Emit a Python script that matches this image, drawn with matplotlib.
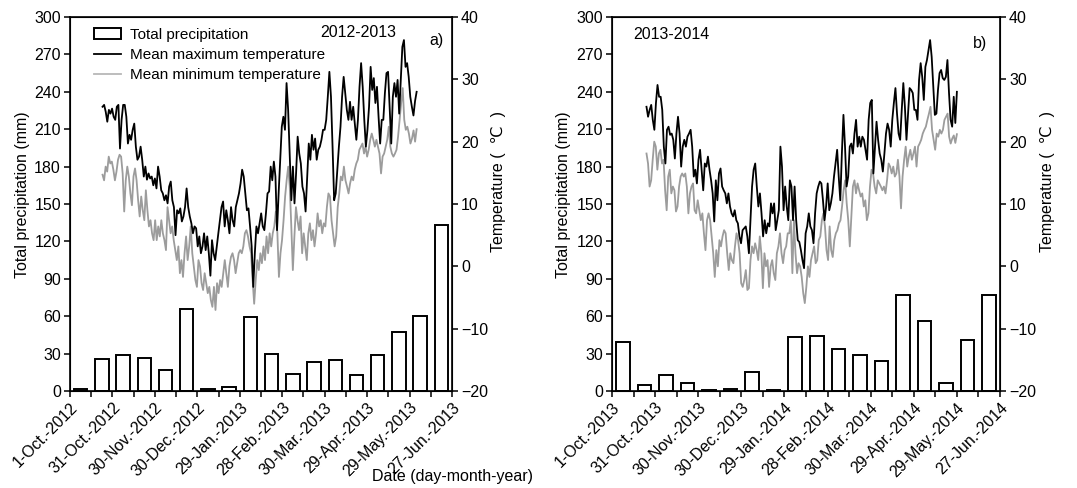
import numpy as np
import matplotlib
matplotlib.use("Agg")
from matplotlib import pyplot as plt
from matplotlib.patches import Patch
from matplotlib.lines import Line2D

plt.rcParams["font.family"] = ["Liberation Sans", "DejaVu Sans"]
plt.rcParams["font.size"] = 11

# ---- data -------------------------------------------------------------
labels_a = ["1-Oct.-2012", "31-Oct.-2012", "30-Nov.-2012", "30-Dec.-2012", "29-Jan.-2013",
            "28-Feb.-2013", "30-Mar.-2013", "29-Apr.-2013", "29-May.-2013", "27-Jun.-2013"]
labels_b = ["1-Oct.-2013", "31-Oct.-2013", "30-Nov.-2013", "30-Dec.-2013", "29-Jan.-2014",
            "28-Feb.-2014", "30-Mar.-2014", "29-Apr.-2014", "29-May.-2014", "27-Jun.-2014"]

# 15-day precipitation totals (mm)
precip_a = [1.5, 25.5, 28.5, 26.5, 16.5, 65.5, 1.3, 3.5, 59.5, 29.5, 13.5, 23.5, 25, 12.5, 29, 47.5, 60, 133]
precip_b = [39.5, 4.5, 12.5, 6.5, 1.2, 1.5, 15.5, 1.2, 43, 44.5, 34, 28.5, 24, 77, 56, 6.5, 41, 77]

# daily mean max / min temperature (degC)
tmax_a = [25.6, 25.9, 24.8, 23.2, 25.1, 24.5, 25.3, 24.0, 23.5, 25.6, 25.9, 18.9, 23.5, 25.9, 25.9, 24.0,
          19.7, 21.1, 20.3, 21.9, 22.9, 19.2, 17.1, 17.6, 19.2, 17.1, 14.4, 16.0, 13.9, 14.9, 14.1, 14.4,
          13.0, 14.1, 12.5, 16.0, 14.4, 12.2, 11.7, 10.6, 11.4, 10.1, 12.8, 13.6, 10.6, 9.5, 5.0, 9.0,
          8.5, 9.3, 7.2, 8.0, 9.5, 12.5, 9.5, 8.0, 6.9, 5.3, 6.4, 6.1, 3.2, 4.8, 2.1, 3.2, 5.3, 2.6,
          4.8, 2.1, -1.5, 4.2, 2.1, 1.0, 3.2, 5.3, 7.4, 9.5, 10.4, 6.4, 9.0, 7.4, 5.3, 9.5, 7.4, 6.4,
          9.5, 10.6, 11.7, 13.3, 15.5, 14.4, 11.7, 9.0, 9.3, 6.4, 3.2, -3.3, 2.1,
          6.4, 5.3, 6.9, 8.5, 6.4, 5.8, 8.5, 11.7, 12.0, 16.0, 13.8, 16.8, 14.4, 5.8, 11.7, 17.1,
          22.4, 24.0, 21.9, 29.4, 25.1, 17.6, 10.6, 16.0, 10.1, 14.9, 20.8, 18.1, 16.5, 12.8, 11.7, 8.8,
          14.4, 19.7, 17.1, 21.1, 18.7, 20.5, 17.1, 18.7, 19.2, 20.3, 21.9, 21.9, 23.5, 27.2, 31.2, 27.2,
          19.2, 10.6, 11.7, 15.5, 19.2, 22.4, 27.2, 30.4, 27.8, 25.1, 23.5, 26.4, 23.5, 25.6, 22.9, 20.3,
          23.5, 28.8, 32.6, 28.8, 23.5, 19.2, 21.9, 25.6, 32.0, 28.3, 30.2, 26.2, 28.8, 24.0, 19.7, 23.5,
          23.5, 27.8, 31.0, 31.2, 25.6, 19.7, 27.2, 29.4, 27.2, 29.9, 24.5, 29.9, 35.2, 36.3, 32.0, 32.6,
          30.4, 27.2, 25.6, 24.2, 26.5, 28.0]
tmin_a = [14.7, 13.8, 16.0, 15.2, 17.6, 16.5, 16.8, 15.5, 13.8, 15.2, 17.1, 17.9, 17.6, 14.9, 8.8, 13.8,
          16.0, 14.4, 11.7, 9.8, 14.4, 15.7, 13.8, 10.6, 8.0, 11.2, 9.0, 7.4, 12.2, 9.0, 6.4, 7.4,
          5.3, 4.2, 7.4, 4.2, 6.4, 4.8, 7.4, 5.3, 4.2, 2.6, 9.5, 7.4, 5.3, 6.4, 4.2, 2.6, 1.0, 3.2,
          -1.1, 1.0, -1.7, 2.1, 4.8, 1.0, 3.2, 6.4, 2.1, 0.0, -2.2, -3.3, 1.0, 0.0, -2.7, -3.8, -1.1,
          -2.7, -4.3, -3.3, -5.4, -6.5, -3.3, -7.0, -2.7, -4.3, -2.2, -3.3, -1.1, 1.0, -1.1, -3.3, 0.0,
          1.5, 2.1, 1.0, -1.1, 0.5, 2.1, 2.6, 2.1, 3.2, 5.3, 5.8, 4.8, 3.2, 2.1, -2.2, -6.0, -2.2, 1.0,
          -0.6, 2.1, 0.5, 3.2, 1.0, 4.8, 2.1, 5.3, 3.2, 5.3, 6.4, 8.8, 5.3, -1.7, 2.1, 4.2, 7.4, 11.2,
          13.8, 16.0, 12.8, 6.4, -0.6, 4.8, 9.5, 7.4, 5.8, 8.0, 2.1, 5.3, 3.2, 1.0, 5.3, 6.9, 4.2, 5.8,
          3.2, 5.3, 8.5, 6.4, 7.4, 5.3, 6.9, 6.4, 9.5, 11.7, 11.2, 7.4, 5.3, 3.2, 4.8, 9.5, 11.7, 14.4,
          13.8, 16.0, 13.8, 12.8, 11.7, 13.3, 14.4, 13.8, 15.5, 16.5, 17.1, 18.7, 19.2, 19.7, 18.1, 19.2,
          17.6, 18.7, 20.3, 21.3, 20.3, 19.2, 20.3, 19.2, 18.1, 14.9, 17.6, 18.1, 19.2, 20.3, 22.4, 19.2,
          18.1, 17.6, 18.1, 18.7, 20.8, 23.5, 26.2, 28.6, 23.5, 21.9, 22.4, 21.3, 19.7, 20.5, 21.8, 20.0,
          22.0]
tmax_b = [25.6, 24.0, 25.1, 25.9, 23.5, 21.9, 26.2, 29.1, 27.2, 27.2, 25.1, 19.2, 16.5, 21.9, 22.4, 21.1,
          21.3, 20.3, 17.3, 21.3, 24.0, 21.3, 16.0, 19.2, 20.3, 19.2, 20.8, 21.3, 21.9, 19.2, 14.4, 15.5,
          13.3, 17.1, 18.7, 15.5, 12.2, 16.5, 16.0, 17.6, 15.5, 13.8, 11.7, 7.2, 13.8, 10.6, 14.9, 15.7,
          12.8, 12.2, 11.7, 10.1, 11.7, 9.6, 8.5, 8.0, 9.0, 7.4, 6.9, 4.8, 3.7, 5.8, 6.1, 6.4, 4.8, 2.1,
          7.4, 12.8, 15.5, 16.5, 12.8, 9.6, 11.7, 8.5, 4.8, 7.4, 5.3, 6.9, 6.4, 10.1, 8.5, 10.1, 5.8,
          7.4, 9.0, 19.2, 16.0, 9.0, 12.8, 9.6, 7.4, 13.8, 12.8, 7.4,
          12.8, 7.4, 4.2, 3.9, 2.6, 1.0, -0.3, 5.3, 6.4, 8.5, 6.4, 5.8, 3.7, 8.5, 11.7, 12.8, 13.6, 13.3,
          10.6, 7.4, 9.6, 13.3, 9.0, 10.1, 11.7, 14.4, 16.5, 18.7, 14.4, 10.6, 18.1, 24.3, 19.2, 12.8,
          14.4, 19.2, 19.7, 18.1, 21.3, 23.5, 19.2, 20.8, 19.2, 20.8, 20.3, 18.7, 17.1, 23.5, 26.2, 26.7,
          14.9, 19.2, 23.2, 20.3, 18.1, 17.1, 15.2, 18.1, 21.3, 22.9, 21.9, 19.2, 23.5, 26.2, 28.6, 24.5,
          21.3, 20.3, 25.1, 29.4, 25.6, 20.3, 24.5, 28.6, 28.3, 27.8, 25.1, 25.1, 23.5, 29.9, 32.6, 30.4,
          26.7, 32.0, 33.1, 34.7, 36.3, 33.6, 28.8, 24.3, 24.5, 28.3, 31.0, 31.5, 30.2, 29.9, 30.4, 33.1,
          27.8, 23.5, 22.4, 27.2, 23.0, 28.0]
tmin_b = [18.1, 16.5, 12.8, 13.8, 17.1, 20.0, 19.2, 15.5, 18.1, 18.7, 16.5, 17.1, 12.2, 9.0, 14.4, 15.5,
          11.7, 12.8, 12.2, 8.8, 9.6, 12.8, 14.4, 14.9, 14.4, 14.9, 12.8, 8.5, 11.7, 12.8, 13.3, 9.0,
          8.5, 10.6, 9.0, 7.4, 8.5, 5.3, 2.6, 7.4, 8.5, 7.4, 4.8, 2.1, -1.7, 2.6, 0.0, 4.2, 3.2, 4.8,
          5.8, 5.3, 2.1, -0.6, 2.1, 1.0, 0.5, 3.2, 5.3, 4.2, 2.1, -2.7, -3.3, -2.2, -0.6, -3.8, -3.5,
          1.0, 3.2, 2.1, 3.7, 2.6, 1.0, 4.8, 2.1, -3.5, 2.1, 0.0, 1.0, -3.3, 0.0, 1.0, -1.1, -2.2, 2.1,
          3.2, 5.3, 2.1, 0.5, 2.6, 3.2, 5.3, 5.3, 7.4, -1.1,
          7.4, 2.1, -1.1, 0.5, 0.0, -1.7, -4.3, -5.9, -3.3, 0.0, -1.7, 1.0, 2.1, 3.2, 0.5, 1.0, 4.2,
          4.8, 7.4, 8.5, 6.4, 2.6, 1.0, 6.4, 2.6, 1.5, 4.2, 5.3, 5.8, 6.9, 7.4, 9.6, 12.2, 13.8, 10.1,
          7.4, 3.2, 8.0, 12.8, 13.8, 11.7, 13.3, 12.2, 11.2, 11.7, 9.6, 10.6, 7.4, 8.5, 12.8, 15.5, 14.9,
          12.8, 11.7, 13.8, 13.3, 12.8, 12.2, 12.8, 11.7, 13.8, 16.5, 16.0, 14.9, 16.0, 14.4, 14.9, 17.1,
          14.4, 9.3, 14.4, 17.1, 19.2, 16.0, 17.6, 18.7, 17.1, 18.1, 19.2, 16.0, 19.2, 19.7, 20.3, 21.3,
          21.9, 22.4, 23.5, 24.5, 25.6, 21.9, 20.3, 18.7, 21.3, 20.8, 21.9, 21.3, 21.9, 23.5, 24.0, 24.5,
          20.8, 19.7, 20.5, 21.0, 19.8, 21.2]

# first and last day of the daily temperature records (days after 1 Oct)
span_a = (23, 245)
span_b = (24, 240)

FS = 11.5


def draw_panel(fig, rect, precip, tmax, tmin, span, xlabels, season, letter, season_xy, letter_xy, legend):
    ax = fig.add_axes(rect)
    days = np.arange(len(precip)) * 15 + 7.5
    ax.bar(days, precip, width=9.5, color="white", edgecolor="black", linewidth=1.4, zorder=2)
    ax.set_xlim(0, 270)
    ax.set_ylim(0, 300)
    ax.set_yticks(np.arange(0, 301, 30))
    ax.set_xticks(np.arange(0, 271, 30))
    ax.set_xticks(np.arange(15, 271, 30), minor=True)
    ax.set_xticklabels(xlabels, rotation=45, ha="right", rotation_mode="anchor")
    ax.tick_params(axis="both", which="both", direction="out", length=4.5, width=1.1,
                   labelsize=FS, pad=2)
    ax.set_ylabel("Total precipitation (mm)", fontsize=FS)
    ax.yaxis.set_label_coords(-0.105, 0.524)
    for s in ax.spines.values():
        s.set_linewidth(1.2)

    ax2 = ax.twinx()
    ax2.set_ylim(-20, 40)
    ax2.set_yticks(np.arange(-20, 41, 10))
    ax2.tick_params(axis="y", direction="out", length=4.5, width=1.1, labelsize=FS, pad=2)
    ax2.set_ylabel("Temperature (  \u2103  )", fontsize=FS)
    ax2.yaxis.set_label_coords(1.102, 0.56)
    t_max_days = np.linspace(span[0], span[1], len(tmax))
    t_min_days = np.linspace(span[0], span[1], len(tmin))
    ax2.plot(t_min_days, tmin, color="#9c9c9c", lw=1.3, zorder=3)
    ax2.plot(t_max_days, tmax, color="black", lw=1.3, zorder=4)

    ax2.text(season_xy[0], season_xy[1], season, transform=ax.transAxes, fontsize=FS, va="center")
    ax2.text(letter_xy[0], letter_xy[1], letter, transform=ax.transAxes, fontsize=FS, va="center")

    if legend:
        handles = [Patch(facecolor="white", edgecolor="black", linewidth=1.4),
                   Line2D([], [], color="black", lw=1.3),
                   Line2D([], [], color="#b8b8b8", lw=1.3)]
        ax2.legend(handles, ["Total precipitation", "Mean maximum temperature",
                             "Mean minimum temperature"],
                   loc="upper left", bbox_to_anchor=(0.04, 0.993), frameon=False,
                   fontsize=11, handlelength=1.8, handletextpad=0.6,
                   labelspacing=0.4, borderaxespad=0.15)
    return ax


fig = plt.figure(figsize=(10.77, 4.88), dpi=100)
draw_panel(fig, [70 / 1077, 97 / 488, 382 / 1077, 374 / 488], precip_a, tmax_a, tmin_a, span_a,
           labels_a, "2012-2013", "a)", (0.655, 0.958), (0.94, 0.936), True)
draw_panel(fig, [612 / 1077, 97 / 488, 388 / 1077, 374 / 488], precip_b, tmax_b, tmin_b, span_b,
           labels_b, "2013-2014", "b)", (0.055, 0.952), (0.93, 0.93), False)
fig.text(452 / 1077, 0.008, "Date (day-month-year)", ha="center", va="bottom", fontsize=FS)

fig.savefig("out.png", dpi=100)
